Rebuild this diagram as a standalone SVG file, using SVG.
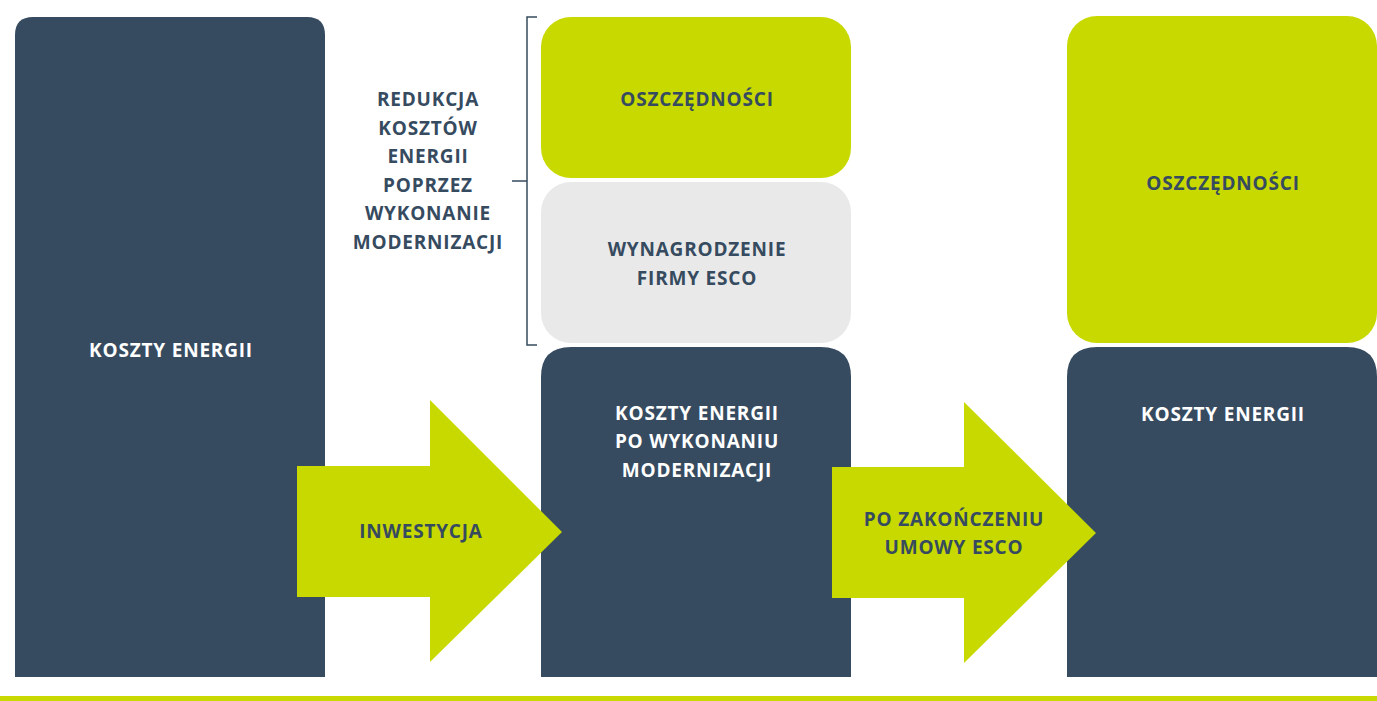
<svg xmlns="http://www.w3.org/2000/svg" width="1377" height="701" viewBox="0 0 1377 701">
<style>
.dark{fill:#364b5f}
.green{fill:#c8d900}
.gray{fill:#e9e9e9}
text{font-family:"Open Sans","Liberation Sans",sans-serif;font-weight:bold;font-size:19px;letter-spacing:0.8px;text-anchor:middle;dominant-baseline:central}
.lt{fill:#ffffff}
.dt{fill:#364b5f}
.br{fill:none;stroke:#364b5f;stroke-width:1.5}
</style>
<rect x="0" y="0" width="1377" height="701" fill="#ffffff"/>
<g id="koszty-left">
<path class="dark" d="M15,677 V35 Q15,17 33,17 H307 Q325,17 325,35 V677 Z"/>
<text class="lt" x="171" y="350">KOSZTY ENERGII</text>
</g>
<g id="label-redukcja">
<text class="dt" x="428" y="99">REDUKCJA</text>
<text class="dt" x="428" y="128">KOSZTÓW</text>
<text class="dt" x="428" y="156">ENERGII</text>
<text class="dt" x="428" y="185">POPRZEZ</text>
<text class="dt" x="428" y="213">WYKONANIE</text>
<text class="dt" x="428" y="242">MODERNIZACJI</text>
</g>
<g id="bracket">
<path class="br" d="M537,17 H527 V345 H537 M512,181 H527"/>
</g>
<g id="oszczednosci-mid">
<rect class="green" x="541" y="17" width="310" height="161" rx="30"/>
<text class="dt" x="697" y="99">OSZCZĘDNOŚCI</text>
</g>
<g id="wynagrodzenie">
<rect class="gray" x="541" y="182" width="310" height="161" rx="30"/>
<text class="dt" x="697" y="249">WYNAGRODZENIE</text>
<text class="dt" x="697" y="278">FIRMY ESCO</text>
</g>
<g id="koszty-mid">
<path class="dark" d="M541,677 V377 Q541,347 571,347 H821 Q851,347 851,377 V677 Z"/>
<text class="lt" x="697" y="413">KOSZTY ENERGII</text>
<text class="lt" x="697" y="441">PO WYKONANIU</text>
<text class="lt" x="697" y="470">MODERNIZACJI</text>
</g>
<g id="oszczednosci-right">
<rect class="green" x="1067" y="16" width="310" height="327" rx="30"/>
<text class="dt" x="1223" y="183">OSZCZĘDNOŚCI</text>
</g>
<g id="koszty-right">
<path class="dark" d="M1067,677 V377 Q1067,347 1097,347 H1347 Q1377,347 1377,377 V677 Z"/>
<text class="lt" x="1223" y="414">KOSZTY ENERGII</text>
</g>
<g id="connectors">
<g id="arrow-inwestycja">
<polygon class="green" points="297,466 430,466 430,400 562,532 430,662 430,597 297,597"/>
<text class="dt" x="421" y="531">INWESTYCJA</text>
</g>
<g id="arrow-po-zakonczeniu">
<polygon class="green" points="832,467 964,467 964,402 1096,533 964,663 964,598 832,598"/>
<text class="dt" x="954" y="519">PO ZAKOŃCZENIU</text>
<text class="dt" x="954" y="547">UMOWY ESCO</text>
</g>
</g>
<rect class="green" x="0" y="696" width="1377" height="5"/>
</svg>
